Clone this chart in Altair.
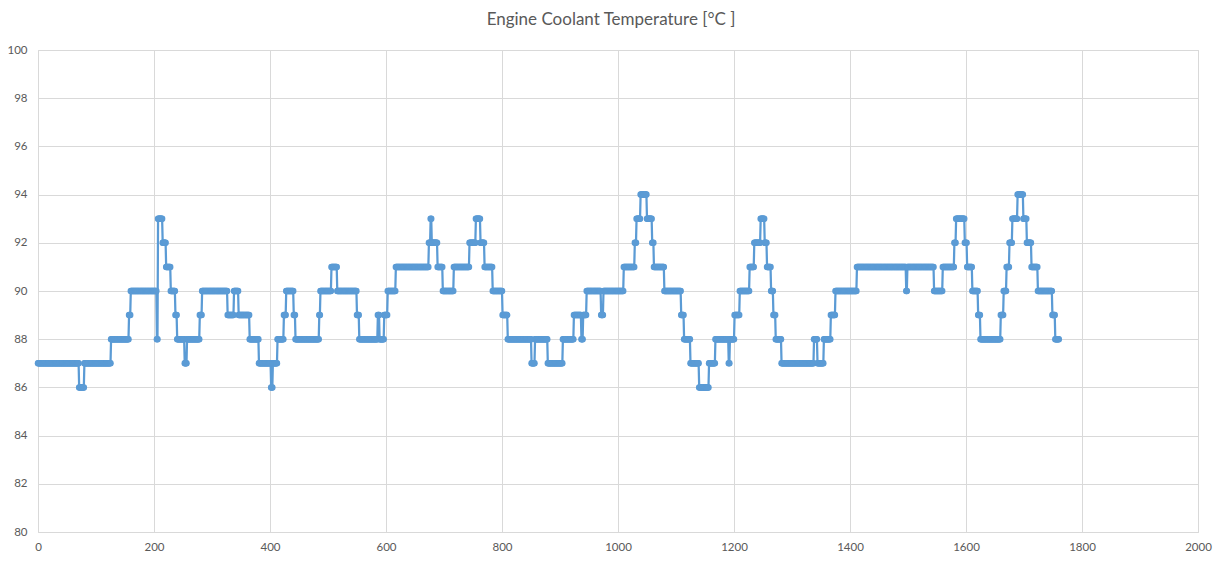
import altair as alt
import pandas as pd

## step data: each run starts at a sample index and holds
## one temperature until the next run starts
run_start = [0, 71, 80, 126, 157, 160, 205, 207, 215, 221, 229, 237, 240, 253,
             257, 279, 283, 327, 338, 346, 365, 381, 402, 405, 413, 424, 428,
             441, 444, 485, 487, 506, 516, 550, 554, 586, 589, 597, 603, 617,
             674, 677, 679, 689, 698, 717, 744, 755, 763, 770, 784, 801, 810,
             851, 857, 879, 905, 924, 937, 940, 946, 971, 975, 1010, 1029,
             1032, 1039, 1050, 1059, 1062, 1080, 1109, 1114, 1125, 1140, 1157,
             1168, 1191, 1193, 1201, 1210, 1227, 1235, 1246, 1253, 1257, 1264,
             1268, 1272, 1282, 1338, 1344, 1355, 1367, 1375, 1412, 1497, 1499,
             1545, 1560, 1580, 1583, 1598, 1602, 1611, 1621, 1625, 1660, 1665,
             1670, 1675, 1680, 1689, 1699, 1705, 1713, 1724, 1749, 1754]
run_value = [87, 86, 87, 88, 89, 90, 88, 93, 92, 91, 90, 89, 88, 87,
             88, 89, 90, 89, 90, 89, 88, 87, 86, 87, 88, 89, 90,
             89, 88, 89, 90, 91, 90, 89, 88, 89, 88, 89, 90, 91,
             92, 93, 92, 91, 90, 91, 92, 93, 92, 91, 90, 89, 88,
             87, 88, 87, 88, 89, 88, 89, 90, 89, 90, 91, 92,
             93, 94, 93, 92, 91, 90, 89, 88, 87, 86, 87,
             88, 87, 88, 89, 90, 91, 92, 93, 92, 91, 90,
             89, 88, 87, 88, 87, 88, 89, 90, 91, 90, 91,
             90, 91, 92, 93, 92, 91, 90, 89, 88, 89, 90,
             91, 92, 93, 94, 93, 92, 91, 90, 89, 88]
last_sample = 1760

x_ticks = list(range(0, 2001, 200))
y_ticks = list(range(80, 101, 2))

rows = []
for i, start in enumerate(run_start):
    end = run_start[i + 1] if i + 1 < len(run_start) else last_sample + 1
    for s in range(start, end):
        rows.append({'sample': s, 'temp': run_value[i]})
df = pd.DataFrame(rows)

blue = '#5B9BD5'
grey_text = '#595959'
grid = '#D9D9D9'

base = alt.Chart(df).encode(
    alt.X('sample:Q',
          scale=alt.Scale(domain=[0, 2000], nice=False),
          axis=alt.Axis(values=x_ticks, format='d', title=None, grid=True,
                        ticks=False, domain=False, labelFlush=False,
                        labelPadding=9)),
    alt.Y('temp:Q',
          scale=alt.Scale(domain=[80, 100], nice=False, zero=False),
          axis=alt.Axis(values=y_ticks, format='d', title=None, grid=True,
                        ticks=False, domain=False, labelPadding=11)),
)

line = base.mark_line(color=blue, strokeWidth=2.25)
dots = base.mark_circle(color=blue, size=42, opacity=1)

chart = (line + dots).properties(
    width=1160,
    height=482,
    autosize=alt.AutoSizeParams(type='none'),
    padding={'left': 30, 'top': 42, 'right': 18, 'bottom': 22},
    title=alt.TitleParams('Engine Coolant Temperature [°C ]',
                          font='Lato', fontSize=17, fontWeight='normal',
                          color=grey_text, anchor='middle', dx=-7, offset=15),
).configure_axis(
    labelFont='Lato', labelFontSize=11.5, labelColor=grey_text,
    gridColor=grid, gridWidth=1,
).configure_view(
    stroke=grid, strokeWidth=1,
)

chart.save('out.html', embed_options={'renderer': 'svg', 'actions': False})
